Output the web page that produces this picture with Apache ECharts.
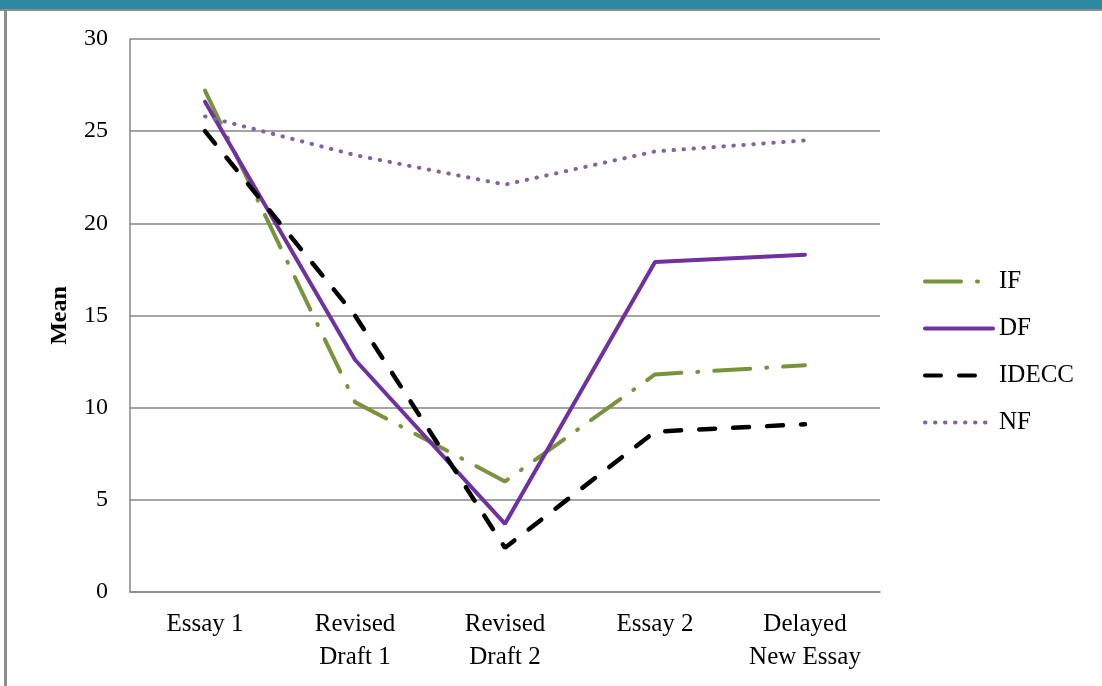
<!DOCTYPE html>
<html>
<head>
<meta charset="utf-8">
<script src="https://cdn.jsdelivr.net/npm/echarts@6/dist/echarts.min.js"></script>
<style>
  html, body { margin: 0; padding: 0; background: #fff; }
  #chart { width: 1102px; height: 686px; }
</style>
</head>
<body>
<div id="chart"></div>
<script>
const categories = ['Essay 1', 'Revised\nDraft 1', 'Revised\nDraft 2', 'Essay 2', 'Delayed\nNew Essay'];
const ifData = [27.2, 10.3, 6.0, 11.8, 12.3];
const dfData = [26.6, 12.6, 3.7, 17.9, 18.3];
const ideccData = [25.0, 15.0, 2.4, 8.7, 9.1];
const nfData = [25.8, 23.7, 22.1, 23.9, 24.5];

const serif = '"Liberation Serif", "DejaVu Serif", serif';

const chart = echarts.init(document.getElementById('chart'));
chart.setOption({
  backgroundColor: '#fff',
  animation: false,
  textStyle: { fontFamily: serif },
  graphic: [
    // slide frame: blue band at top and grey border on the left
    { type: 'rect', shape: { x: 0, y: 0, width: 1102, height: 9 }, style: { fill: '#2f88a2' } },
    { type: 'rect', shape: { x: 0, y: 9, width: 1102, height: 2 }, style: { fill: '#8c8c8c' } },
    { type: 'rect', shape: { x: 4, y: 9, width: 3, height: 677 }, style: { fill: '#8c8c8c' } }
  ],
  grid: { left: 130, right: 222, top: 39, bottom: 94 },
  legend: {
    orient: 'vertical',
    left: 918,
    top: 263,
    itemWidth: 68,
    itemHeight: 14,
    itemGap: 20,
    itemStyle: { opacity: 0 },
    lineStyle: { width: 4 },
    textStyle: { fontFamily: serif, fontSize: 25, lineHeight: 27, color: '#000', padding: [0, 0, 0, 1] },
    data: ['IF', 'DF', 'IDECC', 'NF']
  },
  xAxis: {
    type: 'category',
    data: categories,
    boundaryGap: true,
    axisLine: { lineStyle: { color: '#868686', width: 1.5 } },
    axisTick: { show: false },
    axisLabel: { color: '#000', fontSize: 25, lineHeight: 33, margin: 16, fontFamily: serif }
  },
  yAxis: {
    type: 'value',
    min: 0,
    max: 30,
    interval: 5,
    name: 'Mean',
    nameLocation: 'middle',
    nameGap: 58,
    nameTextStyle: { fontWeight: 'bold', fontSize: 24, color: '#000', fontFamily: serif },
    axisLine: { show: true, lineStyle: { color: '#868686', width: 1.5 } },
    axisTick: { show: false },
    axisLabel: { color: '#000', fontSize: 24, margin: 22, fontFamily: serif },
    splitLine: { lineStyle: { color: '#868686', width: 1.5 } }
  },
  series: [
    {
      name: 'IF', type: 'line', data: ifData, symbol: 'none',
      lineStyle: { color: '#77933c', width: 4, type: [36, 16, 1, 16], cap: 'round' },
      itemStyle: { color: '#77933c' }
    },
    {
      name: 'DF', type: 'line', data: dfData, symbol: 'none',
      lineStyle: { color: '#7030a0', width: 4, type: 'solid', cap: 'round' },
      itemStyle: { color: '#7030a0' }
    },
    {
      name: 'IDECC', type: 'line', data: ideccData, symbol: 'none',
      lineStyle: { color: '#000', width: 4.5, type: [16, 18], cap: 'round' },
      itemStyle: { color: '#000' }
    },
    {
      name: 'NF', type: 'line', data: nfData, symbol: 'none',
      lineStyle: { color: '#8064a2', width: 4, type: [0.5, 9.5], cap: 'round' },
      itemStyle: { color: '#8064a2' }
    }
  ]
});
</script>
</body>
</html>
